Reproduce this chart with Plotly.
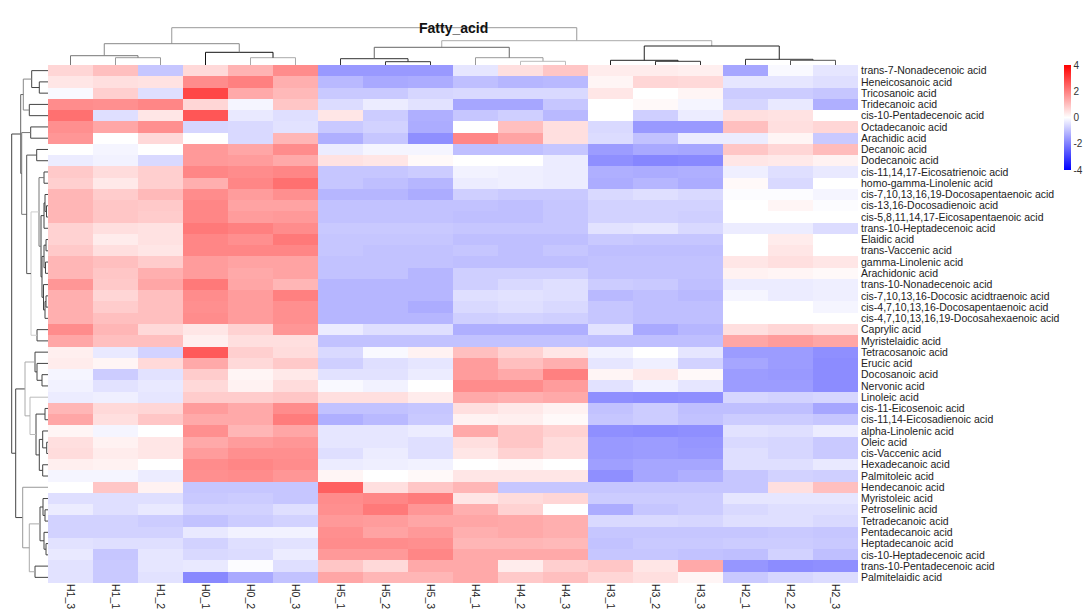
import plotly.graph_objects as go

W, H = 1085, 610

columns = ["H1_3", "H1_1", "H1_2", "H0_1", "H0_2", "H0_3", "H5_1", "H5_2", "H5_3",
           "H4_1", "H4_2", "H4_3", "H3_1", "H3_2", "H3_3", "H2_1", "H2_2", "H2_3"]

rows = [
    "trans-7-Nonadecenoic acid", "Heneicosanoic acid", "Tricosanoic acid", "Tridecanoic acid",
    "cis-10-Pentadecenoic acid", "Octadecanoic acid", "Arachidic acid", "Decanoic acid",
    "Dodecanoic acid", "cis-11,14,17-Eicosatrienoic acid", "homo-gamma-Linolenic acid",
    "cis-7,10,13,16,19-Docosapentaenoic acid", "cis-13,16-Docosadienoic acid",
    "cis-5,8,11,14,17-Eicosapentaenoic acid", "trans-10-Heptadecenoic acid", "Elaidic acid",
    "trans-Vaccenic acid", "gamma-Linolenic acid", "Arachidonic acid",
    "trans-10-Nonadecenoic acid", "cis-7,10,13,16-Docosic acidtraenoic acid",
    "cis-4,7,10,13,16-Docosapentaenoic acid", "cis-4,7,10,13,16,19-Docosahexaenoic acid",
    "Caprylic acid", "Myristelaidic acid", "Tetracosanoic acid", "Erucic acid",
    "Docosanoic acid", "Nervonic acid", "Linoleic acid", "cis-11-Eicosenoic acid",
    "cis-11,14-Eicosadienoic acid", "alpha-Linolenic acid", "Oleic acid", "cis-Vaccenic acid",
    "Hexadecanoic acid", "Palmitoleic acid", "Hendecanoic acid", "Myristoleic acid",
    "Petroselinic acid", "Tetradecanoic acid", "Pentadecanoic acid", "Heptadecanoic acid",
    "cis-10-Heptadecenoic acid", "trans-10-Pentadecenoic acid", "Palmitelaidic acid",
]

z_values = [
    [0.65, 1.0, -0.9, 0.6, 1.2, 1.8, -1.6, -1.6, -1.6, -0.4, 0.5, 0.9, 0.3, 0.3, 0.25, -1.4, -0.1, -0.4],
    [0.4, 0.5, 0.45, 1.8, 2.0, 1.25, -1.1, -1.35, -1.3, -1.0, -1.15, -1.1, 0.15, 0.65, 0.6, -0.4, -0.4, -0.5],
    [-0.1, 0.75, -0.5, 2.9, 1.35, 1.1, -0.85, -0.85, -0.65, -0.6, -0.6, -0.6, 0.4, 0.0, 0.15, -0.8, -0.8, -0.9],
    [1.8, 1.75, 1.9, 0.65, -0.15, 0.9, -0.55, -0.3, -0.45, -1.4, -1.4, -0.9, 0.0, 0.1, -0.15, -0.65, -0.35, -1.25],
    [2.25, -0.5, 0.4, 2.65, -0.35, -0.5, 0.4, -0.8, -1.25, -0.9, -0.75, -1.1, 0.0, -0.75, -0.3, 0.5, 0.45, 0.0],
    [1.75, 1.4, 1.75, -0.65, -0.6, -0.45, -0.85, -0.7, -1.3, 0.0, 1.0, 0.5, -0.6, -1.6, -1.6, 1.0, 0.5, 0.65],
    [1.65, 0.0, 0.6, 0.0, -0.6, 1.15, -1.25, -0.9, -1.75, 1.9, 1.45, 0.5, -0.55, -0.95, -0.3, -0.3, 0.15, -0.85],
    [0.0, -0.15, 0.0, 1.6, 1.4, 1.8, -0.3, -0.15, -0.15, -1.0, -1.0, -0.9, -1.55, -1.35, -1.4, 0.9, 0.65, 1.05],
    [-0.3, -0.2, -0.6, 1.6, 1.55, 1.35, 0.45, 0.4, 0.1, 0.0, 0.0, -0.3, -1.75, -1.9, -1.85, 0.4, 0.35, 0.2],
    [0.85, 0.55, 0.75, 1.9, 1.8, 1.9, -0.9, -0.9, -0.8, -0.2, -0.25, -0.3, -1.25, -1.3, -1.25, -0.25, -0.5, -0.35],
    [0.75, 0.35, 0.75, 1.25, 1.9, 2.25, -0.9, -1.0, -1.15, -0.3, -0.25, -0.3, -1.3, -1.15, -1.3, 0.1, -0.6, 0.0],
    [1.15, 0.8, 1.1, 1.8, 1.55, 1.75, -1.15, -1.15, -1.3, -0.75, -0.85, -0.85, -0.6, -0.5, -0.6, -0.05, -0.05, -0.15],
    [1.15, 0.9, 0.85, 1.9, 1.45, 1.45, -0.95, -0.95, -0.95, -0.95, -1.0, -0.9, -0.7, -0.7, -0.7, 0.0, 0.15, -0.05],
    [1.15, 0.9, 0.8, 1.9, 1.55, 1.6, -0.95, -0.95, -0.95, -1.0, -1.0, -0.9, -0.7, -0.7, -0.75, 0.0, 0.0, 0.0],
    [0.7, 0.5, 0.45, 2.1, 2.0, 1.8, -0.85, -0.85, -0.85, -0.9, -0.9, -0.9, -0.45, -0.4, -0.6, -0.3, -0.3, -0.55],
    [0.7, 0.3, 0.45, 1.9, 1.75, 2.1, -0.9, -0.9, -0.9, -1.0, -1.0, -1.0, -0.85, -0.9, -0.9, 0.0, 0.3, 0.0],
    [0.85, 0.5, 0.4, 1.9, 1.9, 1.9, -0.9, -0.95, -0.95, -0.9, -1.0, -0.9, -1.0, -1.0, -1.0, 0.0, 0.4, 0.0],
    [1.15, 1.0, 0.8, 1.55, 1.45, 1.45, -0.95, -0.95, -0.95, -1.0, -1.0, -1.0, -0.95, -0.95, -0.95, 0.4, 0.5, 0.4],
    [1.15, 0.9, 1.25, 1.55, 1.35, 1.45, -0.95, -0.95, -1.15, -0.75, -0.75, -0.75, -0.95, -0.95, -0.95, 0.2, 0.15, 0.1],
    [1.65, 0.85, 1.4, 2.1, 1.4, 1.15, -1.15, -1.15, -1.15, -0.75, -0.6, -0.5, -0.8, -0.85, -1.0, -0.3, -0.3, -0.25],
    [1.25, 0.65, 1.0, 1.8, 1.55, 2.0, -1.15, -1.15, -1.15, -0.5, -0.45, -0.5, -1.1, -1.0, -1.1, -0.15, -0.3, -0.25],
    [1.25, 0.8, 1.0, 1.75, 1.55, 1.75, -1.15, -1.15, -1.3, -0.6, -0.5, -0.6, -0.9, -1.0, -1.0, 0.0, 0.0, -0.15],
    [1.25, 1.0, 1.0, 1.8, 1.55, 1.75, -1.15, -1.15, -1.15, -0.75, -0.7, -0.75, -0.9, -1.0, -1.0, 0.0, 0.0, 0.0],
    [1.8, 1.15, 0.6, 0.4, 0.7, 1.65, -0.3, -0.5, -0.5, -1.25, -1.25, -1.25, -0.45, -1.35, -1.15, 0.5, 0.65, 0.5],
    [1.4, 1.0, 1.0, 0.25, 0.5, 0.5, -0.95, -0.95, -0.95, -0.95, -0.95, -0.95, -1.0, -1.0, -1.0, 1.4, 1.55, 1.4],
    [0.25, -0.35, -0.7, 2.6, 0.75, 0.55, -0.6, -0.1, 0.2, 1.0, 0.7, 0.4, -0.2, 0.0, -0.4, -1.55, -1.55, -1.75],
    [0.3, 0.15, 0.6, 1.35, 0.6, 0.85, -0.75, -0.5, -0.4, 1.55, 1.0, 1.25, -0.4, -0.25, -0.7, -1.4, -1.55, -1.8],
    [-0.15, -0.8, -0.45, 0.8, 0.15, 0.35, -0.45, -0.45, -0.3, 1.55, 1.35, 2.0, 0.15, 0.35, 0.1, -1.55, -1.6, -1.8],
    [-0.2, -0.45, -0.35, 0.6, 0.2, 0.55, -0.1, -0.2, 0.0, 1.8, 1.8, 1.55, -0.45, -0.2, -0.4, -1.55, -1.55, -1.8],
    [-0.3, -0.25, -0.4, 0.8, 0.8, 0.9, 0.5, 0.5, 0.3, 1.35, 1.25, 1.35, -1.75, -1.8, -1.75, -0.65, -0.7, -0.65],
    [1.15, 0.6, 0.65, 1.55, 1.35, 1.8, -0.95, -0.95, -0.9, 0.5, 0.35, 0.2, -0.95, -0.8, -1.0, -1.0, -1.0, -1.4],
    [1.4, 0.5, 0.9, 1.35, 1.35, 2.05, -1.25, -1.1, -0.85, 0.2, 0.25, 0.1, -0.9, -0.8, -0.95, -0.8, -0.8, -0.9],
    [0.15, -0.15, 0.0, 1.75, 1.15, 1.4, -0.4, -0.4, -0.3, 1.35, 0.9, 0.7, -1.75, -1.8, -1.75, -0.45, -0.5, -0.3],
    [0.5, 0.2, 0.4, 1.35, 1.55, 1.65, -0.4, -0.4, -0.5, 0.5, 0.9, 0.55, -1.6, -1.55, -1.65, -0.6, -0.65, -0.85],
    [0.55, 0.3, 0.4, 1.55, 1.75, 1.75, -0.5, -0.3, -0.5, 0.4, 0.7, 0.55, -1.6, -1.55, -1.6, -0.5, -0.65, -0.85],
    [0.25, 0.2, 0.0, 1.8, 1.9, 1.8, -0.3, -0.25, -0.2, 0.0, 0.1, 0.0, -1.5, -1.4, -1.4, -0.5, -0.5, -0.35],
    [-0.15, -0.15, -0.3, 1.75, 1.8, 1.65, 0.15, 0.0, 0.1, 0.4, 0.4, 0.4, -1.75, -1.4, -1.25, -0.9, -0.7, -0.75],
    [0.0, 0.9, 0.2, -0.9, -0.9, -0.9, 2.5, 0.5, 0.9, 1.15, -0.9, -0.9, -0.9, -0.9, -0.9, -0.9, 0.5, 1.0],
    [-0.5, -0.5, -0.5, -0.85, -0.8, -0.9, 1.8, 1.9, 2.05, 0.4, 0.55, 0.65, -0.8, -0.8, -0.8, -0.4, -0.4, -0.4],
    [-0.3, -0.5, -0.35, -0.7, -0.7, -0.5, 1.75, 2.1, 1.65, 1.25, 0.7, 0.0, -1.3, -0.9, -0.8, -0.6, -0.5, -0.5],
    [-0.7, -0.7, -0.8, -0.95, -0.8, -0.7, 1.6, 1.55, 1.4, 1.4, 1.35, 1.25, -0.6, -0.6, -0.65, -0.5, -0.5, -0.6],
    [-0.7, -0.7, -0.7, -0.35, -0.2, -0.2, 1.75, 1.45, 1.6, 1.25, 1.35, 1.25, -0.9, -0.9, -0.9, -0.9, -0.85, -0.9],
    [-0.45, -0.5, -0.5, -0.7, -0.5, -0.45, 1.8, 1.8, 1.75, 1.15, 1.15, 1.1, -0.95, -0.85, -0.85, -0.8, -0.8, -0.85],
    [-0.35, -0.9, -0.4, -0.6, -0.55, -0.3, 1.6, 1.6, 1.9, 1.35, 1.35, 1.35, -0.9, -0.9, -0.95, -1.0, -0.7, -1.0],
    [-0.45, -0.85, -0.4, -0.35, -0.05, -0.5, 0.9, 0.6, 1.35, 1.35, 0.3, 0.75, 0.9, 0.4, 1.35, -1.65, -1.8, -1.75],
    [-0.45, -0.85, -0.45, -1.85, -1.35, -0.95, 1.4, 1.15, 1.15, 1.35, 0.85, 1.0, 0.65, 0.5, 0.15, -0.85, -0.65, -0.55],
]

colorbar_ticks = [-4, -2, 0, 2, 4]
colorbar_ticktext = ["-4", "-2", "0", "2", "4"]

# linkage: [child_a, child_b, merge height]; ids >= n refer to earlier merges (n + k)
col_linkage = [
    [1, 2, 7.3], [0, 18, 9.3], [4, 5, 7.3], [3, 20, 12.7], [19, 21, 21.3],
    [7, 8, 3.3], [6, 23, 6.3], [10, 11, 3.7], [9, 25, 7.3], [24, 26, 17.7],
    [13, 14, 3.7], [12, 28, 4.7], [16, 17, 4.7], [15, 30, 5.7], [29, 31, 19.0],
    [27, 32, 24.3], [22, 33, 37.3],
]
row_linkage = [
    [1, 2, 8.7], [0, 46, 16.3], [3, 4, 18.7], [47, 48, 24.7], [5, 6, 17.3],
    [7, 8, 11.3], [9, 10, 4.0], [12, 13, 1.5], [11, 53, 3.0], [54, 14, 4.0],
    [15, 16, 2.0], [17, 18, 2.5], [56, 57, 4.0], [20, 21, 2.0], [59, 22, 3.0],
    [19, 60, 4.5], [58, 61, 6.0], [55, 62, 7.0], [52, 63, 9.0], [23, 24, 11.0],
    [64, 65, 17.0], [51, 66, 21.3], [50, 67, 26.3], [49, 68, 27.3],
    [27, 28, 6.0], [26, 70, 11.0], [25, 71, 13.0], [30, 31, 3.0], [33, 34, 1.3],
    [32, 74, 5.3], [35, 36, 5.3], [75, 76, 8.7], [73, 77, 12.0], [29, 78, 18.0],
    [72, 79, 23.0], [39, 40, 3.0], [38, 81, 5.0], [42, 43, 2.0], [41, 83, 4.0],
    [82, 84, 8.0], [44, 45, 13.0], [85, 86, 18.7], [37, 87, 25.3], [80, 88, 32.3],
    [69, 89, 36.3],
]

col_link_colors = ["#999999", "#777777", "#aaaaaa", "#111111", "#888888", "#333333", "#333333",
                   "#bbbbbb", "#999999", "#666666", "#333333", "#222222", "#555555", "#333333",
                   "#222222", "#aaaaaa", "#999999"]
row_link_colors = ["#444444"] * len(row_linkage)
for k, c in {20: "#cccccc", 33: "#bbbbbb", 34: "#aaaaaa", 41: "#aaaaaa", 42: "#999999",
             3: "#888888", 22: "#777777", 23: "#666666", 21: "#555555", 18: "#777777"}.items():
    row_link_colors[k] = c


def dendro_paths(linkage, n, colors):
    pos = {i: float(i) for i in range(n)}
    hgt = {i: 0.0 for i in range(n)}
    paths = {}
    for k, (a, b, h) in enumerate(linkage):
        pa, pb = pos[a], pos[b]
        xs, ys = paths.setdefault(colors[k], ([], []))
        xs += [pa, pa, pb, pb, None]
        ys += [hgt[a], h, h, hgt[b], None]
        pos[n + k] = (pa + pb) / 2.0
        hgt[n + k] = h
    return paths


def xp(px):
    return px / W


def yp(py):
    return 1 - py / H


HM_L, HM_R, HM_T, HM_B = 48, 858, 65, 583
FONT = "Liberation Sans, Arial, sans-serif"

fig = go.Figure()

fig.add_trace(go.Heatmap(
    z=z_values, x=columns, y=rows,
    colorscale=[[0, "#0000ff"], [0.5, "#ffffff"], [1, "#ff0000"]],
    zmin=-4, zmax=4,
    colorbar=dict(
        x=xp(1064), xanchor="left", y=yp(65), yanchor="top",
        lenmode="pixels", len=105, thicknessmode="pixels", thickness=7,
        xpad=0, ypad=0, outlinewidth=0, ticks="",
        tickmode="array", tickvals=colorbar_ticks, ticktext=colorbar_ticktext,
        tickfont=dict(size=10, color="#333", family=FONT),
    ),
    xaxis="x", yaxis="y", hoverongaps=False,
))

for color, (xs, ys) in dendro_paths(col_linkage, len(columns), col_link_colors).items():
    fig.add_trace(go.Scatter(x=xs, y=ys, mode="lines", line=dict(color=color, width=1),
                             xaxis="x2", yaxis="y2", hoverinfo="skip", showlegend=False))

for color, (xs, ys) in dendro_paths(row_linkage, len(rows), row_link_colors).items():
    fig.add_trace(go.Scatter(x=ys, y=xs, mode="lines", line=dict(color=color, width=1),
                             xaxis="x3", yaxis="y3", hoverinfo="skip", showlegend=False))

hidden = dict(showgrid=False, zeroline=False, showticklabels=False, showline=False, ticks="")

fig.update_layout(
    width=W, height=H, margin=dict(l=0, r=0, t=0, b=0),
    paper_bgcolor="white", plot_bgcolor="white", showlegend=False,
    font=dict(family=FONT, color="#222"),
    xaxis=dict(domain=[xp(HM_L), xp(HM_R)], tickangle=90, ticks="", showgrid=False,
               zeroline=False, tickfont=dict(size=10.5, color="#222"), side="bottom",
               tickmode="linear", dtick=1),
    yaxis=dict(domain=[yp(HM_B), yp(HM_T)], autorange="reversed", side="right", ticks="",
               showgrid=False, zeroline=False, tickfont=dict(size=10.5, color="#222"),
               tickmode="linear", dtick=1, ticklabelstandoff=2),
    xaxis2=dict(domain=[xp(HM_L), xp(HM_R)], range=[-0.5, 17.5], anchor="y2", **hidden),
    yaxis2=dict(domain=[yp(HM_T), yp(25)], range=[0, 40], anchor="x2", **hidden),
    xaxis3=dict(domain=[0, xp(HM_L)], range=[48, 0], anchor="y3", **hidden),
    yaxis3=dict(domain=[yp(HM_B), yp(HM_T)], range=[45.5, -0.5], anchor="x3", **hidden),
    annotations=[dict(text="<b>Fatty_acid</b>", x=xp((HM_L + HM_R) / 2), y=yp(18),
                      xref="paper", yref="paper", showarrow=False,
                      font=dict(size=14, color="#111", family=FONT))],
)

fig.write_html("out.html")
